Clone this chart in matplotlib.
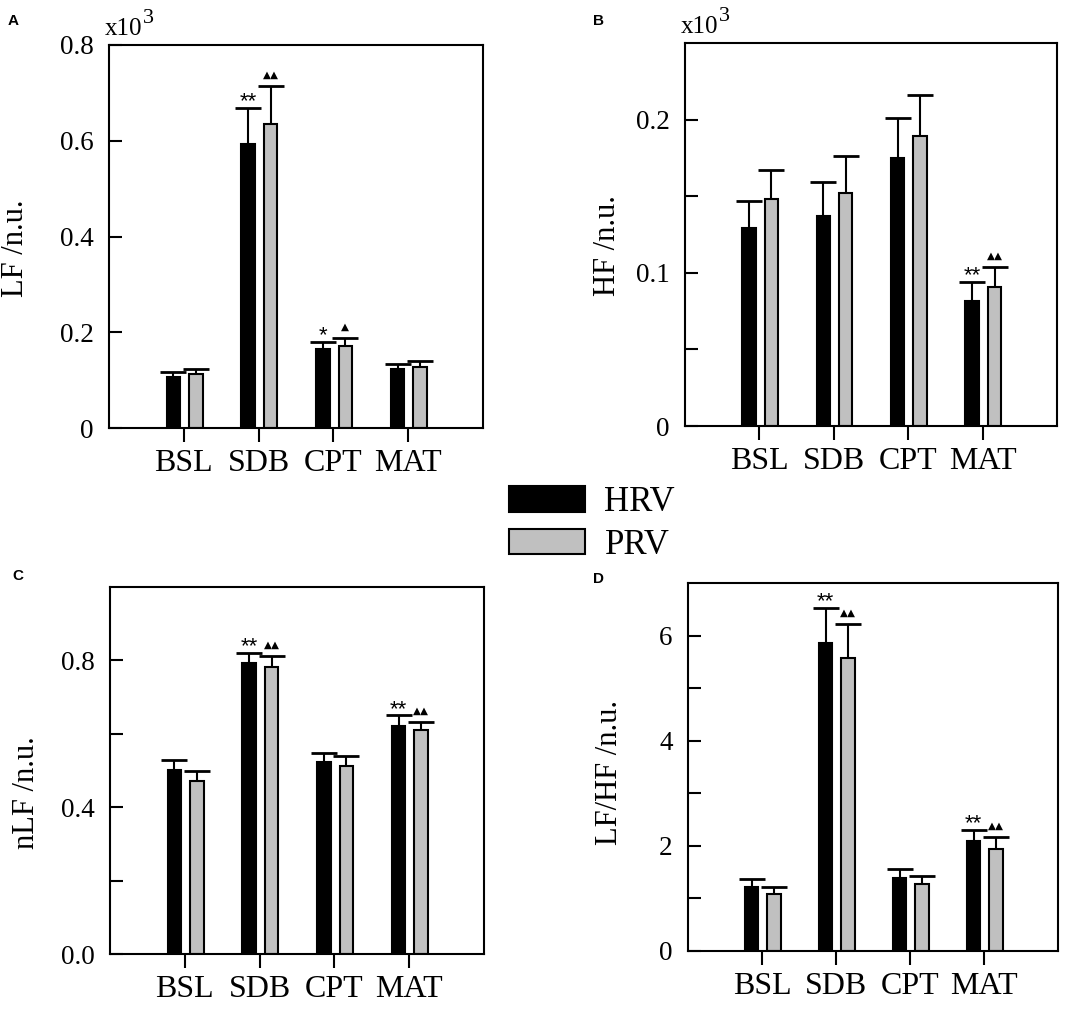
import matplotlib
matplotlib.use('Agg')
import matplotlib.pyplot as plt
from matplotlib.patches import Patch
import numpy as np

plt.rcParams['font.family'] = ['Liberation Serif', 'DejaVu Serif']

# ---------------- data ----------------
categories = ['BSL', 'SDB', 'CPT', 'MAT']
series_names = ['HRV', 'PRV']

# Panel A: LF (x10^3)
lf_hrv = [0.107, 0.593, 0.165, 0.123]
lf_hrv_err = [0.010, 0.075, 0.015, 0.010]
lf_prv = [0.112, 0.634, 0.171, 0.128]
lf_prv_err = [0.011, 0.080, 0.016, 0.011]
lf_hrv_sig = ['', '**', '*', '']
lf_prv_sig = ['', '\u25B2\u25B2', '\u25B2', '']

# Panel B: HF (x10^3)
hf_hrv = [0.129, 0.137, 0.175, 0.0815]
hf_hrv_err = [0.018, 0.022, 0.026, 0.0125]
hf_prv = [0.148, 0.152, 0.189, 0.0907]
hf_prv_err = [0.019, 0.024, 0.027, 0.0133]
hf_hrv_sig = ['', '', '', '**']
hf_prv_sig = ['', '', '', '\u25B2\u25B2']

# Panel C: nLF
nlf_hrv = [0.502, 0.793, 0.522, 0.622]
nlf_hrv_err = [0.027, 0.027, 0.027, 0.028]
nlf_prv = [0.471, 0.781, 0.511, 0.611]
nlf_prv_err = [0.028, 0.030, 0.028, 0.020]
nlf_hrv_sig = ['', '**', '', '**']
nlf_prv_sig = ['', '\u25B2\u25B2', '', '\u25B2\u25B2']

# Panel D: LF/HF
ratio_hrv = [1.219, 5.854, 1.384, 2.083]
ratio_hrv_err = [0.152, 0.673, 0.178, 0.215]
ratio_prv = [1.086, 5.568, 1.283, 1.943]
ratio_prv_err = [0.139, 0.648, 0.152, 0.216]
ratio_hrv_sig = ['', '**', '', '**']
ratio_prv_sig = ['', '\u25B2\u25B2', '', '\u25B2\u25B2']

# axis ticks / labels
a_ticks = [0, 0.2, 0.4, 0.6, 0.8]
a_ticklabels = ['0', '0.2', '0.4', '0.6', '0.8']
b_ticks = [0, 0.05, 0.1, 0.15, 0.2]
b_ticklabels = ['0', '', '0.1', '', '0.2']
c_ticks = [0, 0.2, 0.4, 0.6, 0.8]
c_ticklabels = ['0.0', '', '0.4', '', '0.8']
d_ticks = [0, 1, 2, 3, 4, 5, 6]
d_ticklabels = ['0', '', '2', '', '4', '', '6']

# ---------------- figure ----------------
W, H = 1084, 1024
fig = plt.figure(figsize=(W / 100, H / 100), dpi=100)

HRV_COLOR = 'black'
PRV_COLOR = '#c0c0c0'


def px_axes(left, top, right, bottom):
    return fig.add_axes([left / W, 1 - bottom / H, (right - left) / W, (bottom - top) / H])


def draw_panel(ax, hrv, hrv_err, prv, prv_err, hrv_sig, prv_sig, ylim, ticks, ticklabels,
               ylabel, label_x, label_y, show_exp):
    x = np.arange(1, len(categories) + 1)
    xh = x - 0.14
    xp = x + 0.16
    w = 0.18
    ax.bar(xh, hrv, width=w, color=HRV_COLOR, edgecolor='black', linewidth=1.5, zorder=2)
    ax.bar(xp, prv, width=w, color=PRV_COLOR, edgecolor='black', linewidth=1.5, zorder=2)
    ekw = dict(fmt='none', ecolor='black', elinewidth=1.5, capsize=9.5, capthick=2.0, zorder=3)
    for xs, vals, errs in ((xh, hrv, hrv_err), (xp, prv, prv_err)):
        eb = ax.errorbar(xs, vals, yerr=[np.zeros(len(vals)), errs], **ekw)
        caps = eb[1]
        if len(caps) == 2:
            caps[0].set_visible(False)  # hide lower cap (only upper error shown)
    for xi, v, e, s in zip(xh, hrv, hrv_err, hrv_sig):
        if s:
            ax.annotate(s, (xi, v + e), xytext=(0, 0.5), textcoords='offset points',
                        ha='center', va='baseline', fontsize=16, family='Liberation Sans')
    for xi, v, e, s in zip(xp, prv, prv_err, prv_sig):
        if s:
            ax.annotate(s, (xi, v + e), xytext=(0, 6), textcoords='offset points',
                        ha='center', va='baseline', fontsize=7.5, family='DejaVu Sans')
    ax.set_xlim(0, 5)
    ax.set_ylim(*ylim)
    ax.set_xticks(x)
    ax.set_xticklabels(categories, fontsize=23)
    ax.set_yticks(ticks)
    ax.set_yticklabels(ticklabels, fontsize=19.5)
    ax.tick_params(axis='y', direction='in', length=9.5, width=1.5, pad=11)
    ax.tick_params(axis='x', direction='out', length=10, width=1.5, pad=5)
    for sp in ax.spines.values():
        sp.set_linewidth(1.5)
    ax.set_ylabel(ylabel, fontsize=22)
    ax.yaxis.set_label_coords(label_x, label_y)
    if show_exp:
        t = ax.text(-0.012, 1.026, 'x10', transform=ax.transAxes, ha='left',
                    va='baseline', fontsize=18)
        ax.annotate('3', xy=(1, 0), xycoords=t, xytext=(0.5, 12),
                    textcoords='offset points', ha='left', va='baseline', fontsize=16)


axA = px_axes(109, 45, 483, 428)
draw_panel(axA, lf_hrv, lf_hrv_err, lf_prv, lf_prv_err, lf_hrv_sig, lf_prv_sig,
           (0, 0.8), a_ticks, a_ticklabels, 'LF /n.u.', -0.211, 0.47, True)

axB = px_axes(685, 43, 1057, 426)
draw_panel(axB, hf_hrv, hf_hrv_err, hf_prv, hf_prv_err, hf_hrv_sig, hf_prv_sig,
           (0, 0.25), b_ticks, b_ticklabels, 'HF /n.u.', -0.169, 0.47, True)

axC = px_axes(110, 587, 484, 954)
draw_panel(axC, nlf_hrv, nlf_hrv_err, nlf_prv, nlf_prv_err, nlf_hrv_sig, nlf_prv_sig,
           (0, 1.0), c_ticks, c_ticklabels, 'nLF /n.u.', -0.185, 0.44, False)

axD = px_axes(688, 583, 1058, 951)
draw_panel(axD, ratio_hrv, ratio_hrv_err, ratio_prv, ratio_prv_err, ratio_hrv_sig, ratio_prv_sig,
           (0, 7), d_ticks, d_ticklabels, 'LF/HF /n.u.', -0.174, 0.486, False)

# panel letters
for letter, (px, py) in zip(['A', 'B', 'C', 'D'], [(8, 14), (593, 14), (12, 569), (593, 572)]):
    fig.text(px / W, 1 - py / H, letter, ha='left', va='top', fontsize=11,
             fontweight='bold', family='Liberation Sans')

# legend
handles = [Patch(facecolor=HRV_COLOR, edgecolor='black', linewidth=1.5),
           Patch(facecolor=PRV_COLOR, edgecolor='black', linewidth=1.5)]
fig.legend(handles, series_names, loc='upper left', bbox_to_anchor=(509 / W, 1 - 486 / H),
           frameon=False, fontsize=25, handlelength=2.2, handleheight=0.75,
           handletextpad=0.55, labelspacing=0.28, borderpad=0, borderaxespad=0)

fig.savefig('out.png', dpi=100)
